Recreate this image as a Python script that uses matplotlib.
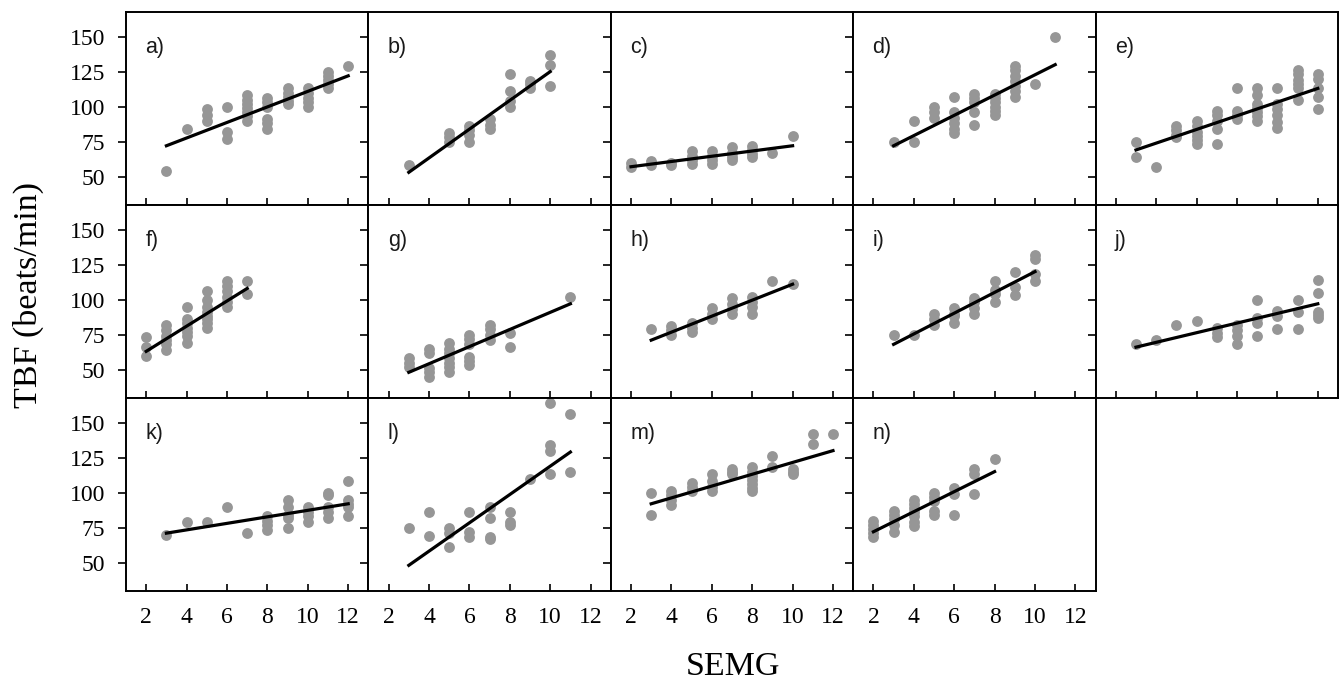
import numpy as np
import matplotlib
matplotlib.use("Agg")
import matplotlib.pyplot as plt

# SEMG score -> list of TBF readings, one dict per subject panel
panel_a = {3: [54], 4: [84], 5: [98, 94, 90], 6: [100, 82, 77],
           7: [108, 105, 102, 99, 96, 93, 90], 8: [106, 103, 100, 91, 88, 84],
           9: [113, 110, 107, 104, 102], 10: [113, 110, 106, 103, 100],
           11: [125, 122, 119, 116, 113], 12: [129]}
panel_b = {3: [58], 5: [81, 78, 75], 6: [86, 83, 80, 75], 7: [91, 87, 84],
           8: [123, 111, 104, 100], 9: [118, 116, 113], 10: [137, 130, 115]}
panel_c = {2: [60, 57], 3: [61, 58], 4: [60, 58], 5: [68, 65, 62, 59],
           6: [68, 65, 62, 59], 7: [71, 67, 64, 62], 8: [72, 69, 66, 64],
           9: [67], 10: [79]}
panel_d = {3: [75], 4: [90, 75], 5: [100, 96, 92], 6: [107, 96, 92, 88, 84, 81],
           7: [109, 106, 103, 96, 87], 8: [109, 106, 103, 100, 97, 94],
           9: [129, 126, 122, 118, 115, 111, 107], 10: [116], 11: [150]}
panel_e = {3: [75, 64], 4: [57], 5: [86, 83, 80, 78], 6: [90, 86, 82, 79, 76, 73],
           7: [97, 94, 90, 84, 73], 8: [113, 97, 94, 91],
           9: [113, 108, 102, 99, 96, 93, 90], 10: [113, 102, 98, 94, 89, 85],
           11: [126, 123, 119, 116, 113, 105], 12: [123, 120, 113, 107, 98]}
panel_f = {2: [73, 66, 60], 3: [82, 78, 74, 71, 68, 64], 4: [95, 86, 83, 80, 77, 74, 69],
           5: [106, 100, 95, 91, 88, 86, 83, 80], 6: [113, 110, 106, 102, 98, 95],
           7: [113, 104]}
panel_g = {3: [58, 55, 52], 4: [65, 62, 51, 48, 45], 5: [69, 65, 62, 58, 55, 52, 48],
           6: [75, 72, 68, 59, 56, 53], 7: [82, 79, 75, 71], 8: [76, 66], 11: [102]}
panel_h = {3: [79], 4: [81, 78, 75], 5: [83, 80, 77], 6: [94, 90, 86],
           7: [101, 97, 93, 90], 8: [102, 98, 95, 90], 9: [113], 10: [111]}
panel_i = {3: [75], 4: [75], 5: [90, 86, 82], 6: [94, 90, 88, 83],
           7: [101, 98, 94, 90], 8: [113, 107, 104, 98], 9: [120, 109, 103],
           10: [132, 129, 118, 113]}
panel_j = {3: [68], 4: [71], 5: [82], 6: [85], 7: [80, 76, 73], 8: [82, 78, 74, 68],
           9: [100, 87, 83, 74], 10: [92, 88, 79], 11: [100, 91, 79],
           12: [114, 105, 91, 89, 87]}
panel_k = {3: [70], 4: [79], 5: [79], 6: [90], 7: [71], 8: [83, 80, 77, 73],
           9: [95, 90, 84, 82, 75], 10: [90, 86, 83, 79], 11: [100, 98, 90, 86, 82],
           12: [108, 95, 92, 90, 83]}
panel_l = {3: [75], 4: [86, 69], 5: [75, 71, 61], 6: [86, 72, 68], 7: [90, 82, 68, 67],
           8: [86, 79, 77], 9: [110], 10: [164, 134, 130, 113], 11: [156, 115]}
panel_m = {3: [100, 84], 4: [101, 98, 95, 91], 5: [107, 104, 101], 6: [113, 108, 104, 101],
           7: [117, 115, 113], 8: [118, 115, 112, 109, 106, 103, 101], 9: [126, 118],
           10: [117, 115, 113], 11: [142, 135], 12: [142]}
panel_n = {2: [80, 77, 74, 71, 68], 3: [87, 84, 81, 77, 72], 4: [95, 92, 89, 86, 83, 79, 76],
           5: [100, 97, 94, 87, 84], 6: [103, 99, 84], 7: [117, 113, 99], 8: [124]}

panels = [panel_a, panel_b, panel_c, panel_d, panel_e, panel_f, panel_g,
          panel_h, panel_i, panel_j, panel_k, panel_l, panel_m, panel_n]
letters = ["a)", "b)", "c)", "d)", "e)", "f)", "g)", "h)", "i)", "j)",
           "k)", "l)", "m)", "n)"]
# regression line value at the smallest and largest SEMG of each panel
fit_start = [72, 53, 57, 72, 69, 63, 48, 71, 68, 66, 71, 48, 92, 72]
fit_end = [122, 125, 72, 130, 113, 108, 97, 111, 120, 97, 92, 129, 130, 115]

x_ticks = [2, 4, 6, 8, 10, 12]
y_ticks = [50, 75, 100, 125, 150]

serif = ["Liberation Serif", "DejaVu Serif"]
sans = ["Liberation Sans", "DejaVu Sans"]
dot_color = "#969696"

fig = plt.figure(figsize=(13.44, 6.86), dpi=100)
W, H = 1344.0, 686.0
pw, ph = 242.4, 193.0

for idx, data in enumerate(panels):
    r, c = divmod(idx, 5)
    left = (126 + pw * c) / W
    bottom = 1 - (11.5 + ph * (r + 1)) / H
    ax = fig.add_axes([left, bottom, pw / W, ph / H])

    xs = np.concatenate([[k] * len(v) for k, v in data.items()])
    ys = np.concatenate([v for v in data.values()])
    ax.plot(xs, ys, "o", color=dot_color, ms=7.8, mec="none", zorder=2)
    ax.plot([xs.min(), xs.max()], [fit_start[idx], fit_end[idx]],
            color="black", lw=2.3, zorder=3)

    ax.set_xlim(1, 13)
    ax.set_ylim(30, 168)
    ax.set_xticks(x_ticks)
    ax.set_yticks(y_ticks)
    ax.tick_params(axis="x", direction="in", length=5, width=1.2, pad=12,
                   labelsize=17, labelbottom=(r == 2))
    ax.tick_params(axis="y", direction="out", length=6, width=1.2, pad=9,
                   labelsize=17, labelleft=(c == 0))
    for lab in ax.get_xticklabels() + ax.get_yticklabels():
        lab.set_fontfamily(serif)
    for sp in ax.spines.values():
        sp.set_linewidth(1.4)
        sp.set_color("black")

    ax.text(0.08, 0.815, letters[idx], transform=ax.transAxes, fontsize=15.5,
            family=sans, ha="left", va="center", color="#1a1a1a")

fig.text(0.021, 0.57, "TBF (beats/min)", rotation=90, ha="center", va="center",
         fontsize=24.5, family=serif)
fig.text(0.5454, 0.016, "SEMG", ha="center", va="baseline",
         fontsize=24.5, family=serif)

fig.savefig("out.png", dpi=100)
